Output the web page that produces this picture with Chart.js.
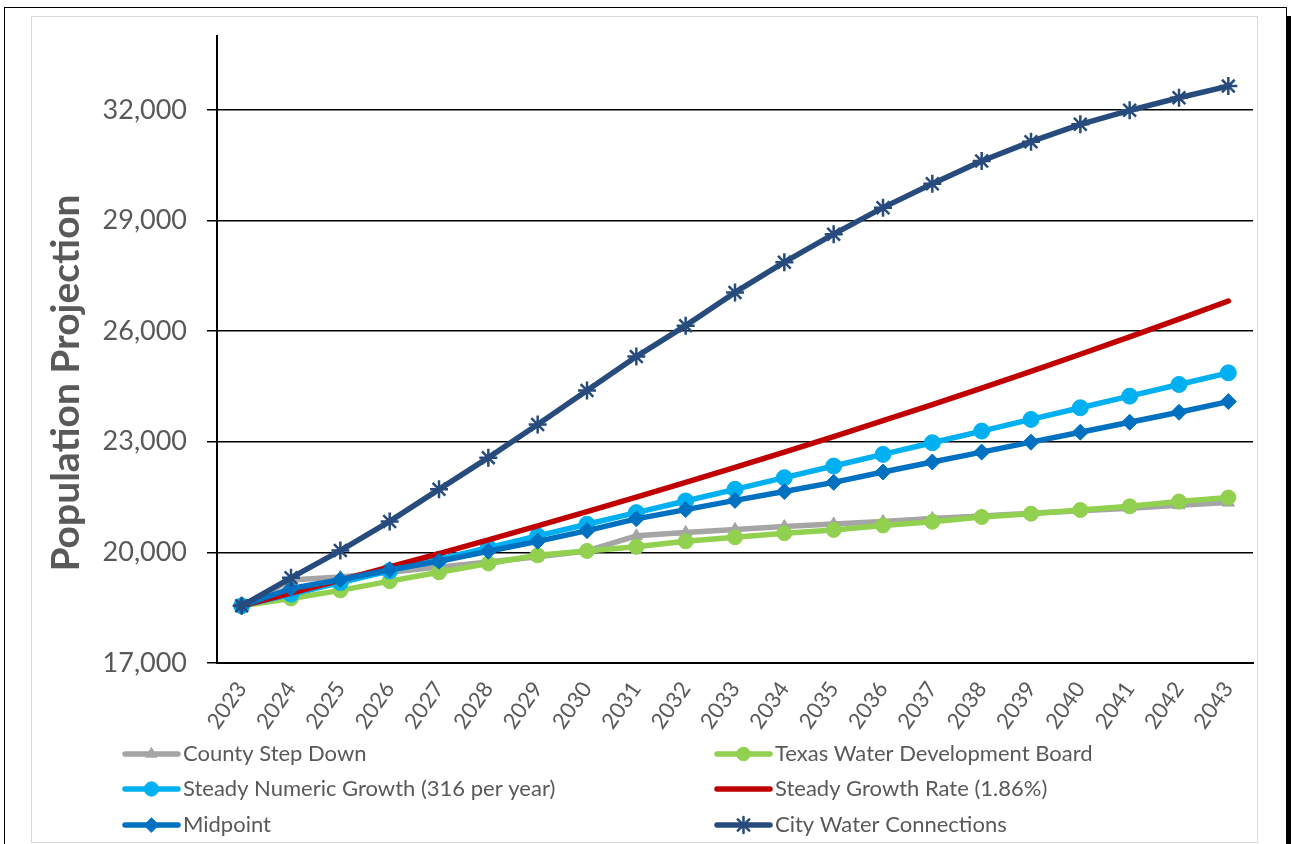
<!DOCTYPE html>
<html>
<head>
<meta charset="utf-8">
<script src="https://cdn.jsdelivr.net/npm/chart.js@4.4.1/dist/chart.umd.min.js"></script>
<style>
  html, body { margin: 0; padding: 0; background: #fff; }
  #wrap { position: relative; width: 1291px; height: 844px; overflow: hidden; background: #fff; }
  #outer { position: absolute; left: 4px; top: 7px; width: 1281px; height: 900px; border: 1.5px solid #000; }
  #shadow { position: absolute; left: 1286px; top: 16px; width: 5px; height: 900px; background: #000; }
  #inner { position: absolute; left: 31px; top: 16px; width: 1225px; height: 825px; border: 1.5px solid #d9d9d9; }
  canvas { position: absolute; left: 0; top: 0; }
</style>
</head>
<body>
<div id="wrap">
  <div id="outer"></div>
  <div id="shadow"></div>
  <div id="inner"></div>
  <canvas id="c" width="1291" height="844"></canvas>
</div>
<script>
const years = ['2023','2024','2025','2026','2027','2028','2029','2030','2031','2032','2033','2034','2035','2036','2037','2038','2039','2040','2041','2042','2043'];
const yTicks = [17000, 20000, 23000, 26000, 29000, 32000];

const countyStepDown = [18550, 19250, 19330, 19460, 19600, 19740, 19880, 20040, 20450, 20540, 20620, 20700, 20770, 20840, 20920, 20990, 21060, 21130, 21200, 21280, 21350];
const texasWaterDevBoard = [18550, 18750, 18970, 19220, 19460, 19700, 19920, 20040, 20150, 20300, 20410, 20520, 20610, 20730, 20830, 20960, 21050, 21150, 21250, 21380, 21490];
const steadyNumericGrowth = [18550, 18866, 19182, 19498, 19814, 20130, 20446, 20762, 21078, 21394, 21710, 22026, 22342, 22658, 22974, 23290, 23606, 23922, 24238, 24554, 24870];
const steadyGrowthRate = [18550, 18895, 19246, 19604, 19969, 20340, 20718, 21104, 21496, 21896, 22303, 22718, 23141, 23571, 24010, 24456, 24911, 25374, 25846, 26327, 26817];
const midpoint = [18550, 19020, 19260, 19530, 19760, 20030, 20300, 20590, 20910, 21160, 21410, 21650, 21900, 22180, 22450, 22720, 22990, 23260, 23530, 23800, 24090];
const cityWaterConnections = [18550, 19310, 20050, 20840, 21710, 22570, 23470, 24390, 25310, 26150, 27050, 27870, 28630, 29350, 30000, 30615, 31140, 31610, 31990, 32330, 32646];

const seriesNames = ['County Step Down', 'Texas Water Development Board', 'Steady Numeric Growth (316 per year)', 'Steady Growth Rate (1.86%)', 'Midpoint', 'City Water Connections'];
const yTitle = 'Population Projection';

const FONT = 'Lato, "Liberation Sans", sans-serif';
const TEXT = '#595959';

function ds(label, data, color, style, radius, order, extra) {
  return Object.assign({
    label, data,
    borderColor: color, backgroundColor: color,
    pointBackgroundColor: color, pointBorderColor: color,
    pointStyle: style, pointRadius: radius, pointHoverRadius: radius,
    pointBorderWidth: 1,
    borderWidth: 5.5, borderCapStyle: 'round', borderJoinStyle: 'round',
    tension: 0, order
  }, extra || {});
}

const datasets = [
  ds(seriesNames[0], countyStepDown, '#A5A5A5', 'triangle', 7, 6),
  ds(seriesNames[1], texasWaterDevBoard, '#92D050', 'circle', 7.5, 5),
  ds(seriesNames[2], steadyNumericGrowth, '#00B0F0', 'circle', 8, 4),
  ds(seriesNames[3], steadyGrowthRate, '#C00000', false, 0, 3),
  ds(seriesNames[4], midpoint, '#0070C0', 'rectRot', 8, 2),
  ds(seriesNames[5], cityWaterConnections, '#264B7C', 'star', 9, 1, { pointBorderWidth: 2.5 })
];

const legendPlugin = {
  id: 'customLegend',
  afterDraw(chart) {
    const ctx = chart.ctx;
    const cols = [123, 715];
    const rows = [754, 789, 825];
    const lineLen = 57;
    chart.data.datasets.forEach((d, i) => {
      const x0 = cols[i % 2];
      const y0 = rows[Math.floor(i / 2)];
      ctx.save();
      ctx.strokeStyle = d.borderColor;
      ctx.lineWidth = 5.5;
      ctx.lineCap = 'round';
      ctx.beginPath();
      ctx.moveTo(x0 + 2, y0);
      ctx.lineTo(x0 + lineLen - 2, y0);
      ctx.stroke();
      if (d.pointStyle) {
        ctx.fillStyle = d.pointBackgroundColor;
        ctx.strokeStyle = d.pointBorderColor;
        ctx.lineWidth = d.pointBorderWidth;
        Chart.helpers.drawPoint(ctx, { pointStyle: d.pointStyle, radius: d.pointRadius * 0.9, borderWidth: d.pointBorderWidth, rotation: 0 }, x0 + lineLen / 2, y0);
      }
      ctx.fillStyle = TEXT;
      ctx.font = '22px ' + FONT;
      ctx.textBaseline = 'middle';
      ctx.textAlign = 'left';
      ctx.fillText(d.label, x0 + lineLen + 3, y0);
      ctx.restore();
    });
    // y-axis title
    ctx.save();
    ctx.translate(66, 383);
    ctx.rotate(-Math.PI / 2);
    ctx.fillStyle = TEXT;
    ctx.font = 'bold 39px ' + FONT;
    ctx.textAlign = 'center';
    ctx.textBaseline = 'middle';
    ctx.fillText(yTitle, 0, 0);
    ctx.restore();
  }
};

new Chart(document.getElementById('c'), {
  type: 'line',
  data: { labels: years, datasets },
  plugins: [legendPlugin],
  options: {
    responsive: false,
    animation: false,
    events: [],
    layout: { padding: { left: 40, top: 36, right: 38, bottom: 106 } },
    plugins: { legend: { display: false }, tooltip: { enabled: false } },
    scales: {
      x: {
        offset: true,
        grid: { display: false, drawTicks: false },
        border: { display: true, color: '#000', width: 2 },
        ticks: { font: { family: FONT, size: 22 }, color: TEXT, maxRotation: 55, minRotation: 55, padding: 14, autoSkip: false },
        afterFit(scale) { scale.height = 75; }
      },
      y: {
        min: yTicks[0], max: 34000,
        afterBuildTicks(scale) { scale.ticks = yTicks.map(v => ({ value: v })); },
        afterFit(scale) { scale.width = 177; },
        grid: { color: '#000', lineWidth: 1.5, tickLength: 10, drawTicks: true },
        border: { display: true, color: '#000', width: 2 },
        ticks: { font: { family: FONT, size: 27 }, color: TEXT, padding: 20, callback: v => Number(v).toLocaleString('en-US') },
        title: { display: false }
      }
    }
  }
});
</script>
</body>
</html>
